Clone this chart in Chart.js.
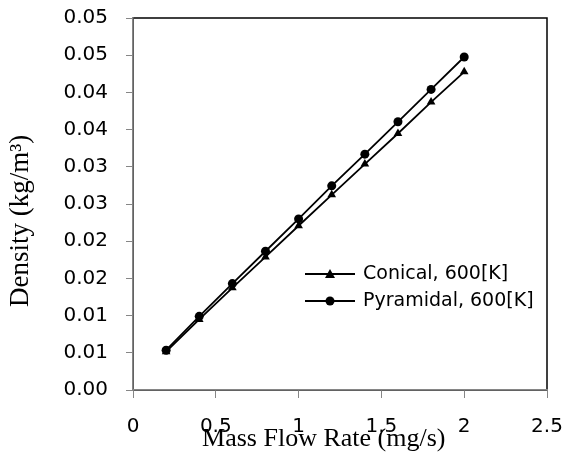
<!DOCTYPE html>
<html>
<head>
<meta charset="utf-8">
<script src="https://cdn.jsdelivr.net/npm/chart.js@4"></script>
<style>
    body { margin: 0; background: #ffffff; }
</style>
</head>
<body>
<canvas id="density-chart" width="565" height="459"></canvas>
<script>
// mass flow rate (mg/s)
const massFlow = [0.2, 0.4, 0.6, 0.8, 1.0, 1.2, 1.4, 1.6, 1.8, 2.0];
// density (kg/m3)
const conical = [0.00515, 0.00948, 0.01373, 0.01789, 0.02208, 0.02623, 0.03036, 0.03448, 0.0387, 0.04276];
const pyramidal = [0.00535, 0.00990, 0.01430, 0.01865, 0.02300, 0.02744, 0.0317, 0.03605, 0.0404, 0.04476];
const seriesNames = ['Conical, 600[K]', 'Pyramidal, 600[K]'];
// Excel rounds the 0.005 steps to two decimals
const yTickLabels = ['0.00', '0.01', '0.01', '0.02', '0.02', '0.03', '0.03', '0.04', '0.04', '0.05', '0.05'];
const xTickLabels = ['0', '0.5', '1', '1.5', '2', '2.5'];

const axisGray = '#868686';

// black frame round the plot area, the gray axes are drawn over it
const plotFrame = {
    id: 'plotFrame',
    beforeDraw(chart) {
        const a = chart.chartArea;
        const ctx = chart.ctx;
        ctx.save();
        ctx.strokeStyle = '#000000';
        ctx.lineWidth = 1.5;
        ctx.strokeRect(a.left, a.top, a.right - a.left, a.bottom - a.top);
        ctx.restore();
    }
};

// legend sitting inside the plot
const insideLegend = {
    id: 'insideLegend',
    afterDraw(chart) {
        const ctx = chart.ctx;
        const x0 = 305, y0 = 274, rowGap = 27;
        ctx.save();
        chart.data.datasets.forEach((ds, i) => {
            const y = y0 + i * rowGap;
            ctx.strokeStyle = '#000000';
            ctx.lineWidth = 1.8;
            ctx.beginPath();
            ctx.moveTo(x0, y);
            ctx.lineTo(x0 + 50, y);
            ctx.stroke();
            ctx.fillStyle = '#000000';
            ctx.beginPath();
            if (ds.pointStyle === 'triangle') {
                ctx.moveTo(x0 + 25, y - 5);
                ctx.lineTo(x0 + 30, y + 4);
                ctx.lineTo(x0 + 20, y + 4);
                ctx.closePath();
            } else {
                ctx.arc(x0 + 25, y, 4.5, 0, Math.PI * 2);
            }
            ctx.fill();
            ctx.font = '19px "DejaVu Sans"';
            ctx.textBaseline = 'middle';
            ctx.fillText(ds.label, x0 + 58, y);
        });
        ctx.restore();
    }
};

document.addEventListener("DOMContentLoaded", function () {
    var ctx = document.getElementById('density-chart').getContext('2d');

    var chartData = {
        labels: massFlow,
        datasets: [{
            label: seriesNames[0],
            data: massFlow.map((m, i) => ({ x: m, y: conical[i] })),
            borderColor: '#000000',
            backgroundColor: '#000000',
            borderWidth: 1.8,
            pointStyle: 'triangle',
            pointRadius: 5,
            pointBorderWidth: 0,
            tension: 0
        }, {
            label: seriesNames[1],
            data: massFlow.map((m, i) => ({ x: m, y: pyramidal[i] })),
            borderColor: '#000000',
            backgroundColor: '#000000',
            borderWidth: 1.8,
            pointStyle: 'circle',
            pointRadius: 4.5,
            pointBorderWidth: 0,
            tension: 0
        }]
    };

    var options = {
        responsive: false,
        animation: false,
        layout: { padding: { top: 18, right: 18, left: 0, bottom: 0 } },
        plugins: {
            legend: { display: false },
            tooltip: { enabled: false }
        },
        scales: {
            x: {
                type: 'linear',
                min: 0,
                max: 2.5,
                afterFit: function (scale) {
                    // fixed box, no extra room for the end labels
                    scale.height = 69;
                    scale.paddingLeft = 0;
                    scale.paddingRight = 0;
                },
                ticks: {
                    stepSize: 0.5,
                    color: '#000000',
                    padding: 17,
                    maxRotation: 0,
                    font: { family: '"DejaVu Sans"', size: 20 },
                    callback: function (value, index) { return xTickLabels[index]; }
                },
                grid: { drawOnChartArea: false, tickLength: 8, color: axisGray, lineWidth: 1 },
                border: { color: axisGray, width: 1.5 },
                title: {
                    display: true,
                    text: 'Mass Flow Rate (mg/s)     ',
                    color: '#000000',
                    padding: { top: 0, bottom: 4 },
                    font: { family: '"Liberation Serif"', size: 26 }
                }
            },
            y: {
                min: 0,
                max: 0.05,
                afterFit: function (scale) {
                    scale.width = 133;
                    scale.paddingTop = 0;
                    scale.paddingBottom = 0;
                },
                ticks: {
                    stepSize: 0.005,
                    color: '#000000',
                    padding: 18,
                    font: { family: '"DejaVu Sans"', size: 20 },
                    callback: function (value, index) { return yTickLabels[index]; }
                },
                grid: { drawOnChartArea: false, tickLength: 7, color: axisGray, lineWidth: 1 },
                border: { color: axisGray, width: 1.5 },
                title: {
                    display: true,
                    text: 'Density (kg/m³)     ',
                    color: '#000000',
                    padding: { top: 5, bottom: 0 },
                    font: { family: '"Liberation Serif"', size: 27 }
                }
            }
        }
    };

    new Chart(ctx, {
        type: 'line',
        data: chartData,
        options: options,
        plugins: [plotFrame, insideLegend]
    });
});
</script>
</body>
</html>
